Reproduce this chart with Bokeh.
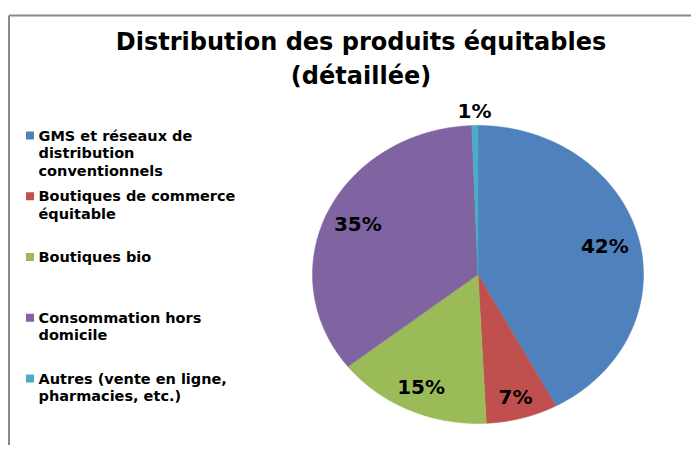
import numpy as np
from bokeh.plotting import figure
from bokeh.models import Range1d
from bokeh.core.properties import value
from bokeh.embed import file_html
from bokeh.resources import INLINE

# ---- data ----
title_lines = ["Distribution des produits équitables", "(détaillée)"]
categories = [
    "GMS et réseaux de\ndistribution\nconventionnels",
    "Boutiques de commerce\néquitable",
    "Boutiques bio",
    "Consommation hors\ndomicile",
    "Autres (vente en ligne,\npharmacies, etc.)",
]
shares = [42.2, 7.0, 15.2, 35.0, 0.6]
pct_labels = ["42%", "7%", "15%", "35%", "1%"]
colors = ["#4F81BD", "#C0504D", "#9BBB59", "#8064A2", "#4BACC6"]

# ---- layout (pixel-like data coordinates, y downwards) ----
W, H = 691, 445
FONT = value("DejaVu Sans")
p = figure(width=W, height=H, output_backend="svg", toolbar_location=None,
           x_range=Range1d(0, W), y_range=Range1d(H, 0), min_border=0)
p.axis.visible = False
p.grid.visible = False
p.outline_line_color = None
p.background_fill_color = "white"
p.border_fill_color = "white"

# chart border (top and left)
p.line([8.5, 8.5], [15, H], line_color="#8a8a8a", line_width=2)
p.line([8.5, W], [15, 15], line_color="#8a8a8a", line_width=2)

# title
p.text(x=[360.5, 360.5], y=[41, 75], text=title_lines, text_font=FONT,
       text_font_style="bold", text_font_size="24px", text_color="black",
       text_align="center", text_baseline="middle")

# pie (slightly elliptical, as in the reference)
cx, cy, rx, ry = 477.5, 274.0, 165.5, 149.0
total = sum(shares)
cum = np.concatenate([[0], np.cumsum(shares)]) / total * 2 * np.pi
xs, ys = [], []
for a0, a1 in zip(cum[:-1], cum[1:]):
    t = np.linspace(a0, a1, max(4, int((a1 - a0) * 80)))
    xs.append(np.concatenate([[cx], cx + rx * np.sin(t)]).tolist())
    ys.append(np.concatenate([[cy], cy - ry * np.cos(t)]).tolist())
p.patches(xs, ys, fill_color=colors, line_color=colors, line_width=0.5)

# percentage labels
label_r = [0.79, 0.85, 0.83, 0.80, 1.10]
mid = (cum[:-1] + cum[1:]) / 2
lx = [cx + rx * r * np.sin(m) for r, m in zip(label_r, mid)]
ly = [cy - ry * r * np.cos(m) for r, m in zip(label_r, mid)]
p.text(x=lx, y=ly, text=pct_labels, text_font=FONT, text_font_style="bold",
       text_font_size="20px", text_color="black", text_align="center",
       text_baseline="middle")

# legend
top0, step, lh = 135.0, 60.75, 17.7
sq_x, sq_y = [], []
tx, ty, tt = [], [], []
for i, cat in enumerate(categories):
    y0 = top0 + i * step
    sq_x.append(29.5)
    sq_y.append(y0)
    for j, line in enumerate(cat.split("\n")):
        tx.append(38)
        ty.append(y0 + j * lh)
        tt.append(line)
p.rect(x=sq_x, y=sq_y, width=8, height=8, fill_color=colors, line_color=None)
p.text(x=tx, y=ty, text=tt, text_font=FONT, text_font_style="bold",
       text_font_size="14.5px", text_color="black", text_align="left",
       text_baseline="middle")

open("out.html", "w").write(file_html(p, INLINE))
